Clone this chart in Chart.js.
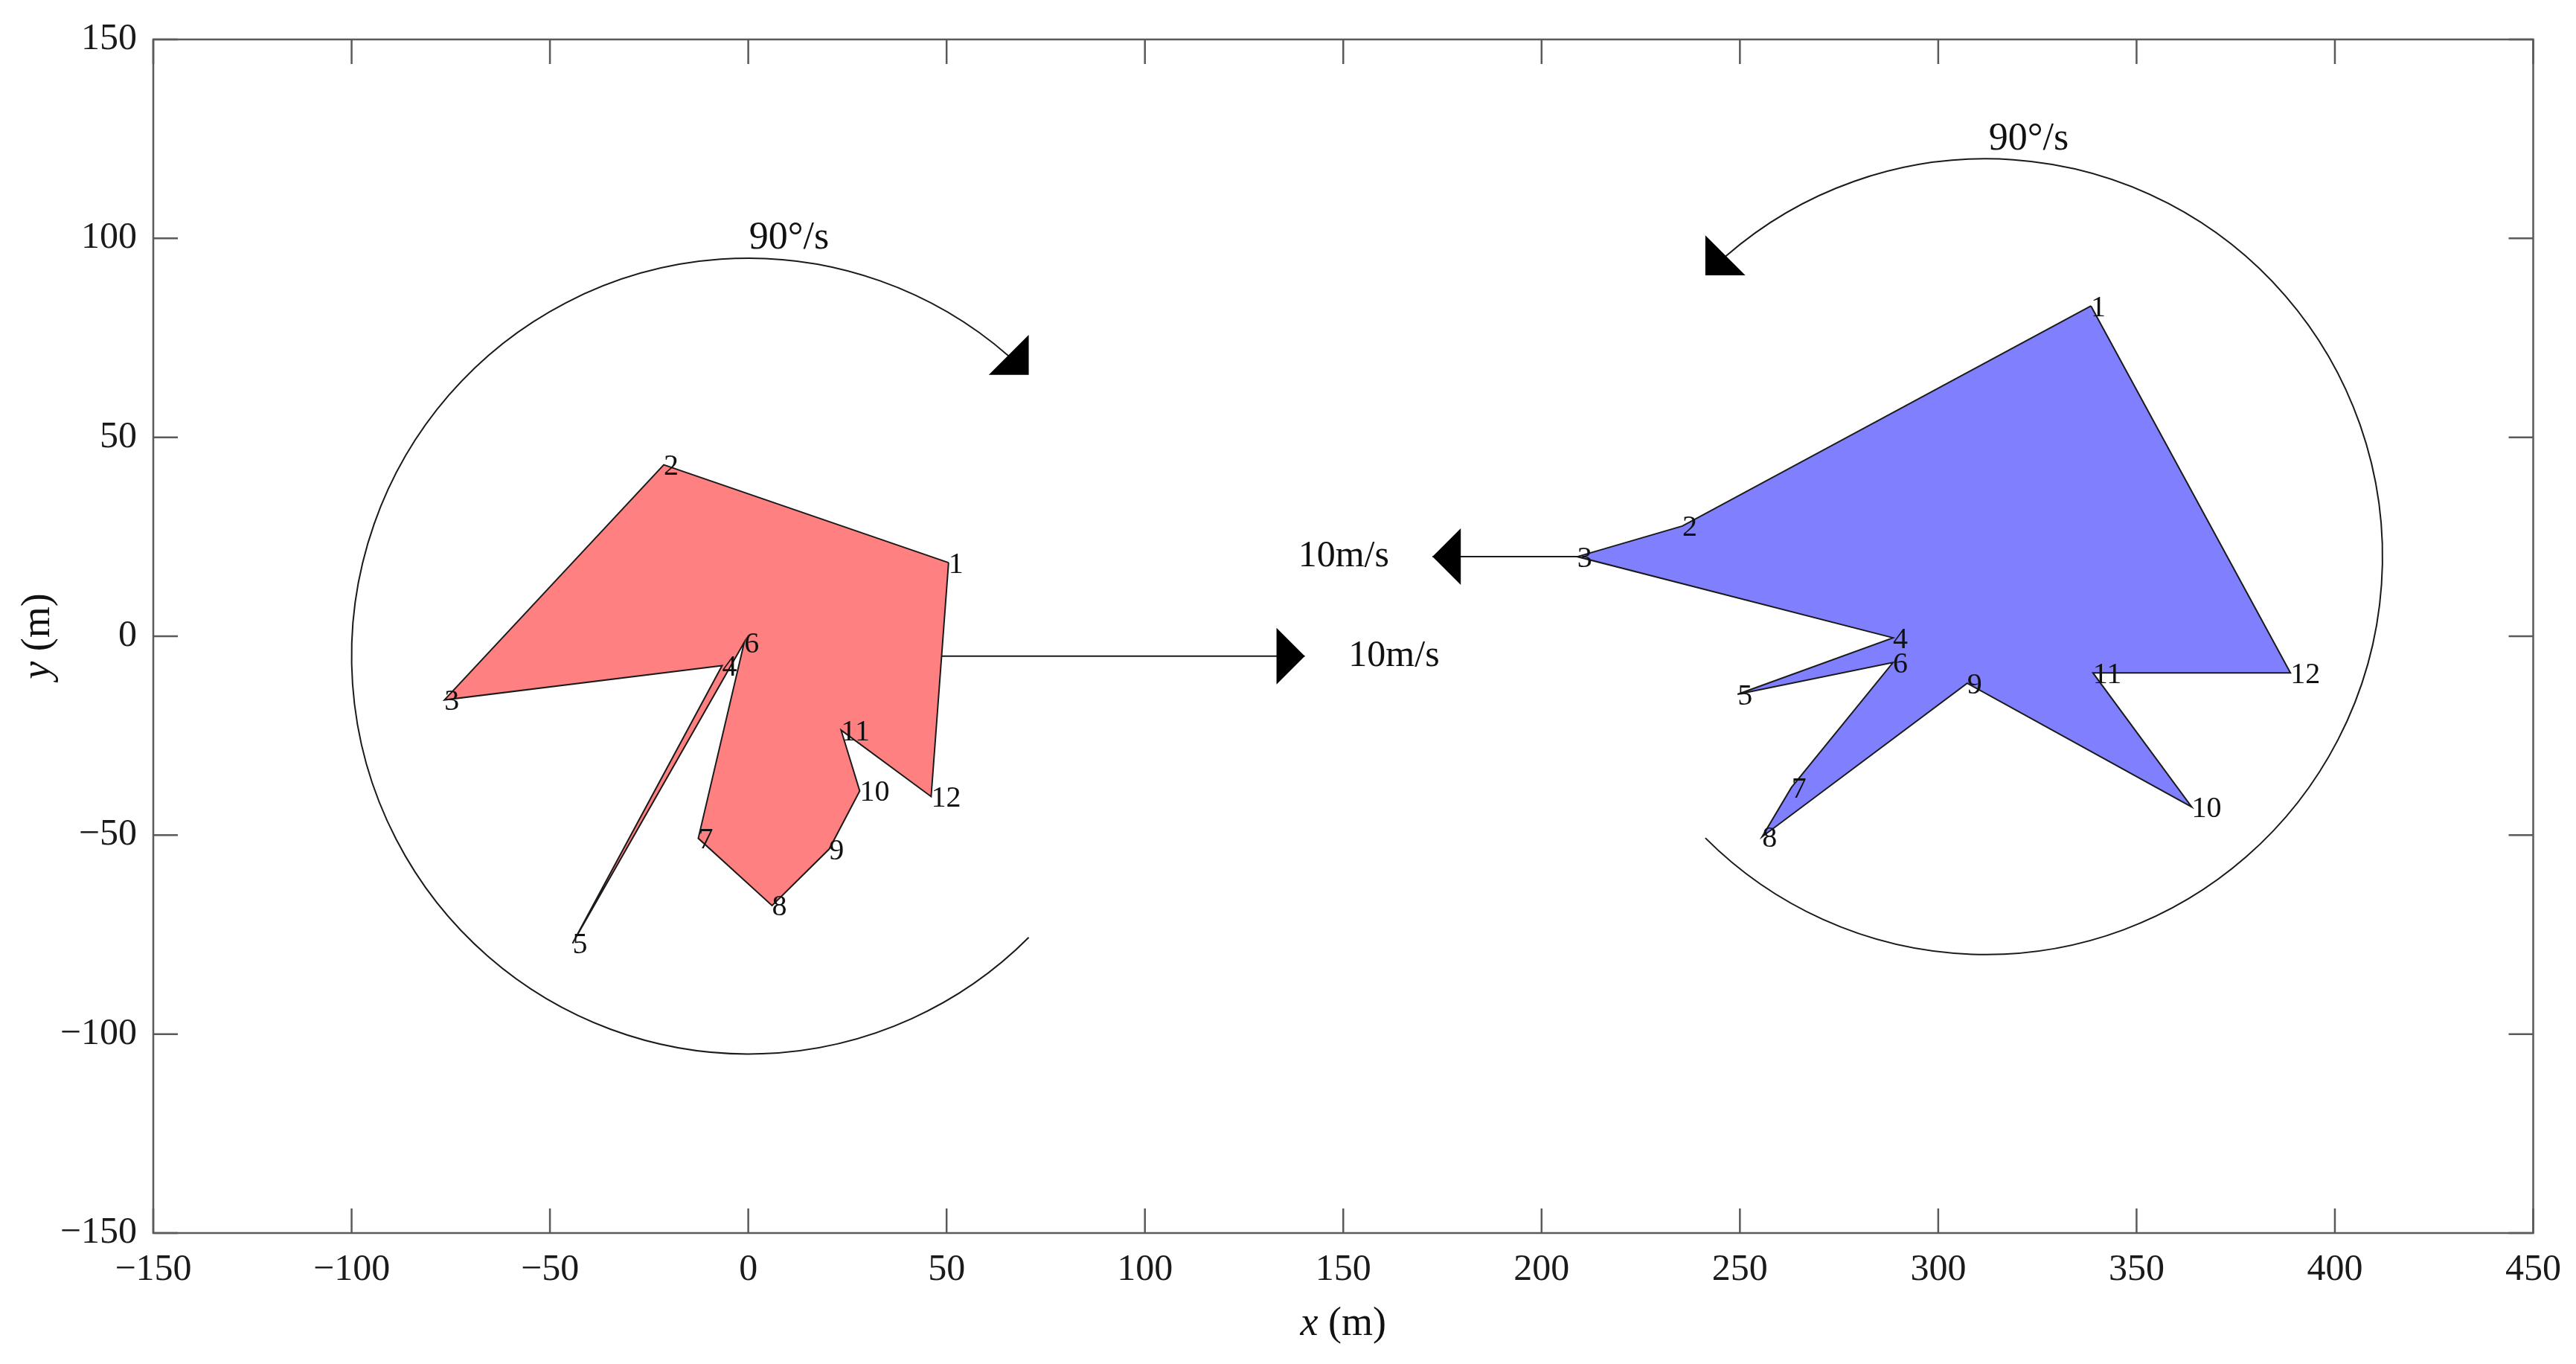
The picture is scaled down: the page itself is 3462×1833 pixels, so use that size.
<!DOCTYPE html>
<html>
<head>
<meta charset="utf-8">
<title>Two rotating shapes</title>
<script src="https://cdn.jsdelivr.net/npm/chart.js@4.4.1/dist/chart.umd.min.js"></script>
<style>
  html, body { margin: 0; padding: 0; background: #fff; }
  canvas { display: block; }
</style>
</head>
<body>
<canvas id="plot" width="3462" height="1833"></canvas>
<script>
// axis ticks
const xTicks = [-150, -100, -50, 0, 50, 100, 150, 200, 250, 300, 350, 400, 450];
const yTicks = [-150, -100, -50, 0, 50, 100, 150];

// vertex numbers, same for both shapes
const vertexNames = ['1', '2', '3', '4', '5', '6', '7', '8', '9', '10', '11', '12'];

// left (red) shape
const redX = [50.5, -21.3, -76.6, -6.6, -44.3, -1.0, -12.6, 6.0, 20.4, 28.1, 23.4, 46.1];
const redY = [18.5, 43.1, -16.0, -7.4, -77.2, -1.5, -50.8, -67.7, -53.5, -38.9, -23.6, -40.3];

// right (blue) shape
const blueX = [338.5, 235.5, 209.0, 288.6, 249.4, 288.6, 263.0, 255.6, 307.3, 363.9, 339.0, 388.8];
const blueY = [83.0, 27.7, 20.0, -0.4, -14.6, -6.6, -38.0, -50.4, -11.8, -42.9, -9.2, -9.2];

// velocity arrows (tail at shape centre)
const arrowTailX = [0, 312];
const arrowTailY = [-5, 20];
const arrowTipX = [140.3, 172.5];
const arrowTipY = [-5, 20];
const speedText = ['10m/s', '10m/s'];
const speedTextX = [162.8, 150.1];
const speedTextY = [-5, 20];

// rotation arcs, angles in degrees counter-clockwise from +x
const arcCenterX = [0, 312];
const arcCenterY = [-5, 20];
const arcRadius = [100, 100];
const arcStart = [49, 131];
const arcEnd = [315, -135];
const arcHeadAt = [45, 135];
const spinText = ['90°/s', '90°/s'];
const spinTextX = [10.3, 322.8];
const spinTextY = [100, 124.8];

const SERIF = '"Liberation Serif", "Times New Roman", serif';
const INK = '#1a1a1a';
const HEAD = 38;

function polygon(xs, ys) {
  const pts = xs.map((x, i) => ({ x: x, y: ys[i] }));
  pts.push(pts[0]);
  return pts;
}

function minusSign(v) {
  return String(v).replace('-', '\u2212');
}

function drawHead(ctx, tx, ty, dx, dy) {
  const len = Math.hypot(dx, dy);
  dx /= len; dy /= len;
  const bx = tx - HEAD * dx, by = ty - HEAD * dy;
  ctx.beginPath();
  ctx.moveTo(tx, ty);
  ctx.lineTo(bx - HEAD * dy, by + HEAD * dx);
  ctx.lineTo(bx + HEAD * dy, by - HEAD * dx);
  ctx.closePath();
  ctx.fill();
}

const decor = {
  id: 'decor',
  afterDatasetsDraw(chart) {
    const ctx = chart.ctx;
    const sx = chart.scales.x, sy = chart.scales.y;
    ctx.save();
    ctx.fillStyle = '#000';
    ctx.strokeStyle = INK;
    ctx.lineWidth = 2;

    // rotation arcs; the head points against the drawing direction
    arcCenterX.forEach((cx, i) => {
      const px = sx.getPixelForValue(cx), py = sy.getPixelForValue(arcCenterY[i]);
      const rx = Math.abs(sx.getPixelForValue(cx + arcRadius[i]) - px);
      const ry = Math.abs(sy.getPixelForValue(arcCenterY[i] + arcRadius[i]) - py);
      const ccw = arcEnd[i] > arcStart[i];
      const a0 = -arcStart[i] * Math.PI / 180, a1 = -arcEnd[i] * Math.PI / 180;
      ctx.beginPath();
      ctx.ellipse(px, py, rx, ry, 0, a0, a1, ccw);
      ctx.stroke();
      const t = arcHeadAt[i] * Math.PI / 180;
      const tx = px + rx * Math.cos(t), ty = py - ry * Math.sin(t);
      // tangent in screen space, clockwise if the arc is drawn counter-clockwise
      const s = ccw ? 1 : -1;
      drawHead(ctx, tx, ty, s * Math.sin(t), s * Math.cos(t));
    });

    // velocity arrow heads
    arrowTipX.forEach((x, i) => {
      const tx = sx.getPixelForValue(x), ty = sy.getPixelForValue(arrowTipY[i]);
      const fx = sx.getPixelForValue(arrowTailX[i]), fy = sy.getPixelForValue(arrowTailY[i]);
      drawHead(ctx, tx, ty, tx - fx, ty - fy);
    });

    // texts
    ctx.fillStyle = '#111';
    ctx.textAlign = 'center';
    ctx.textBaseline = 'middle';
    ctx.font = '52px ' + SERIF;
    spinText.forEach((t, i) => {
      ctx.fillText(t, sx.getPixelForValue(spinTextX[i]), sy.getPixelForValue(spinTextY[i]));
    });
    ctx.font = '50px ' + SERIF;
    speedText.forEach((t, i) => {
      ctx.fillText(t, sx.getPixelForValue(speedTextX[i]), sy.getPixelForValue(speedTextY[i]));
    });

    ctx.textAlign = 'left';
    ctx.font = '40px ' + SERIF;
    [[redX, redY], [blueX, blueY]].forEach(([xs, ys]) => {
      xs.forEach((x, i) => {
        ctx.fillText(vertexNames[i], sx.getPixelForValue(x), sy.getPixelForValue(ys[i]) + 3);
      });
    });
    ctx.restore();
  },
  afterDraw(chart) {
    const ctx = chart.ctx;
    const a = chart.chartArea;
    const sx = chart.scales.x, sy = chart.scales.y;
    const tick = 33;
    ctx.save();
    ctx.strokeStyle = '#5a5a5a';
    ctx.lineWidth = 2.5;
    ctx.strokeRect(a.left, a.top, a.right - a.left, a.bottom - a.top);
    ctx.beginPath();
    xTicks.forEach(v => {
      const p = sx.getPixelForValue(v);
      ctx.moveTo(p, a.bottom); ctx.lineTo(p, a.bottom - tick);
      ctx.moveTo(p, a.top); ctx.lineTo(p, a.top + tick);
    });
    yTicks.forEach(v => {
      const p = sy.getPixelForValue(v);
      ctx.moveTo(a.left, p); ctx.lineTo(a.left + tick, p);
      ctx.moveTo(a.right, p); ctx.lineTo(a.right - tick, p);
    });
    ctx.stroke();

    // axis titles with italic variable
    ctx.fillStyle = '#111';
    ctx.textBaseline = 'middle';
    ctx.textAlign = 'left';
    const title = (cx, cy, v) => {
      ctx.font = 'italic 54px ' + SERIF;
      const w1 = ctx.measureText(v).width;
      ctx.font = '54px ' + SERIF;
      const w2 = ctx.measureText(' (m)').width;
      const x0 = cx - (w1 + w2) / 2;
      ctx.font = 'italic 54px ' + SERIF;
      ctx.fillText(v, x0, cy);
      ctx.font = '54px ' + SERIF;
      ctx.fillText(' (m)', x0 + w1, cy);
    };
    title((a.left + a.right) / 2, 1780, 'x');
    ctx.translate(52, (a.top + a.bottom) / 2);
    ctx.rotate(-Math.PI / 2);
    title(0, 0, 'y');
    ctx.restore();
  }
};

const tickFont = { family: SERIF, size: 50 };

new Chart(document.getElementById('plot'), {
  type: 'scatter',
  data: {
    datasets: [
      {
        data: polygon(redX, redY),
        showLine: true,
        fill: 'shape',
        backgroundColor: 'rgb(255,128,128)',
        borderColor: INK,
        borderWidth: 2,
        pointRadius: 0,
        tension: 0
      },
      {
        data: polygon(blueX, blueY),
        showLine: true,
        fill: 'shape',
        backgroundColor: 'rgb(128,128,255)',
        borderColor: INK,
        borderWidth: 2,
        pointRadius: 0,
        tension: 0
      },
      {
        data: [{ x: arrowTailX[0], y: arrowTailY[0] }, { x: arrowTipX[0], y: arrowTipY[0] }],
        showLine: true,
        borderColor: INK,
        borderWidth: 2,
        pointRadius: 0
      },
      {
        data: [{ x: arrowTailX[1], y: arrowTailY[1] }, { x: arrowTipX[1], y: arrowTipY[1] }],
        showLine: true,
        borderColor: INK,
        borderWidth: 2,
        pointRadius: 0
      }
    ]
  },
  options: {
    responsive: false,
    devicePixelRatio: 1,
    animation: false,
    layout: { padding: { top: 53, right: 52, left: 0, bottom: 0 } },
    plugins: { legend: { display: false }, tooltip: { enabled: false } },
    scales: {
      x: {
        type: 'linear',
        min: -150,
        max: 450,
        afterBuildTicks: s => { s.ticks = xTicks.map(v => ({ value: v })); },
        afterFit: s => { s.height = 176; },
        grid: { display: false, drawTicks: false },
        border: { display: false },
        ticks: { font: tickFont, color: '#1a1a1a', padding: 20, maxRotation: 0, callback: v => minusSign(v) }
      },
      y: {
        type: 'linear',
        min: -150,
        max: 150,
        afterBuildTicks: s => { s.ticks = yTicks.map(v => ({ value: v })); },
        afterFit: s => { s.width = 206; },
        grid: { display: false, drawTicks: false },
        border: { display: false },
        ticks: { font: tickFont, color: '#1a1a1a', padding: 22, callback: v => minusSign(v) }
      }
    }
  },
  plugins: [decor]
});
</script>
</body>
</html>
